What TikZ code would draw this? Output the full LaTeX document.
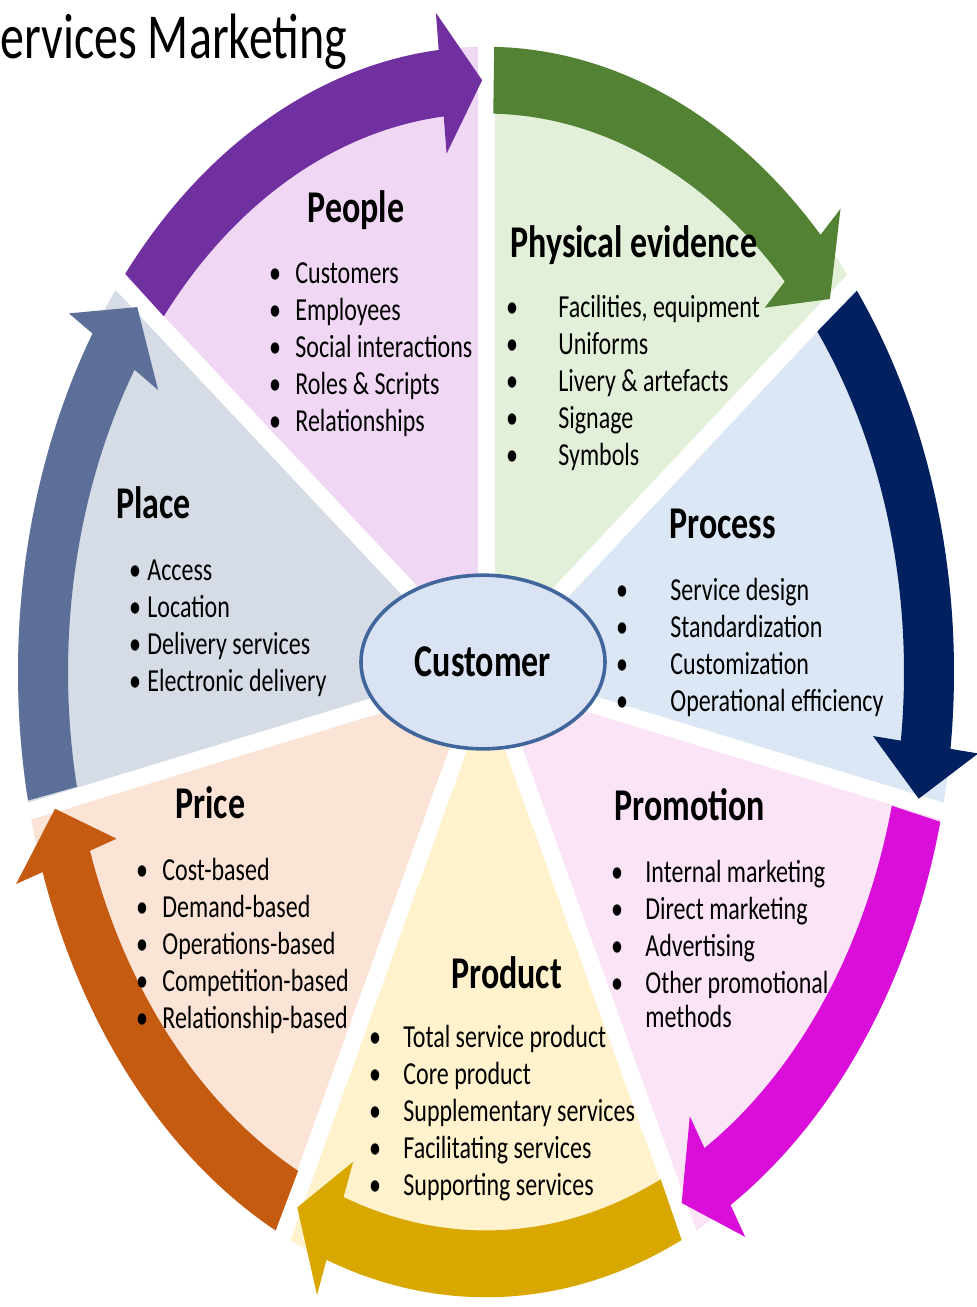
\documentclass[tikz,border=0pt]{standalone}
\usepackage{fontspec}
\setmainfont{Carlito}
\usetikzlibrary{shapes.geometric}

\definecolor{fillPeople}{HTML}{F0D8F5}
\definecolor{fillEvidence}{HTML}{E2EFD9}
\definecolor{fillProcess}{HTML}{DCE7F5}
\definecolor{fillPromotion}{HTML}{FCE4F7}
\definecolor{fillProduct}{HTML}{FFF2CC}
\definecolor{fillPrice}{HTML}{FBE4D6}
\definecolor{fillPlace}{HTML}{D6DCE5}
\definecolor{arrPeople}{HTML}{7030A0}
\definecolor{arrEvidence}{HTML}{548235}
\definecolor{arrProcess}{HTML}{002060}
\definecolor{arrPromotion}{HTML}{D90FD9}
\definecolor{arrProduct}{HTML}{D8A800}
\definecolor{arrPrice}{HTML}{C55A11}
\definecolor{arrPlace}{HTML}{5B6F99}
\definecolor{custFill}{HTML}{DAE3F3}
\definecolor{custLine}{HTML}{41669C}

\newcommand{\ystretch}{1.336}
\newcommand{\rOut}{468}
\newcommand{\rIn}{418}
\newcommand{\rBarbOut}{496}
\newcommand{\rBarbIn}{390}
\newcommand{\rTip}{443}

% band along the rim, head at the clockwise end
\newcommand{\rimarrow}[3]{%
  \fill[#1] ({#2}:\rOut) arc[start angle={#2}, end angle={#3+5.8}, radius=\rOut]
    -- ({#3+5.8}:\rBarbOut) -- ({#3+0.5}:\rTip) -- ({#3+5.8}:\rBarbIn)
    -- ({#3+5.8}:\rIn) arc[start angle={#3+5.8}, end angle={#2}, radius=\rIn] -- cycle;}

% name, bullet x, text x, first baseline (px), items
\newcommand{\bulletlist}[5]{%
  \foreach \txt [count=\j] in {#5} {
    \node[itm] (#1-\j) at (#3,{-(#4+(\j-1)*37)/\ystretch}) {\txt};
    \node[bul] (#1-b\j) at (#2,{-(#4+(\j-1)*37)/\ystretch}) {\textbullet};
  }}

\begin{document}
\begin{tikzpicture}[
    x=0.5pt, y=0.5pt, yscale=\ystretch,
    every node/.style={transform shape, font=\fontsize{12}{14}\selectfont},
    head/.style={font=\fontsize{17}{20}\selectfont\bfseries, inner sep=0pt, anchor=base west},
    itm/.style={anchor=base west, inner sep=0pt},
    bul/.style={anchor=base, inner sep=0pt},
    gap/.style={white, line width=8.5pt},
    cust/.style={ellipse, draw=custLine, line width=1.8pt, fill=custFill,
      minimum width=122pt, minimum height=65pt, inner sep=0pt,
      font=\fontsize{17}{20}\selectfont\bfseries},
  ]
  \useasboundingbox (0,0) rectangle (976,{-1307/\ystretch});

  \begin{scope}[shift={(486,-503)}]
    \foreach \b/\fc in {141.43/fillPeople, 90/fillEvidence, 38.57/fillProcess,
        -12.86/fillPromotion, -64.29/fillProduct, -115.71/fillPrice, -167.14/fillPlace}
      \fill[\fc] (0,0) -- ({\b}:\rOut) arc[start angle=\b, end angle={\b-51.43}, radius=\rOut] -- cycle;
    \foreach \b in {141.43, 90, 38.57, -12.86, -64.29, -115.71, -167.14}
      \draw[gap] (0,0) -- ({\b}:480);
    \foreach \b/\ac in {141.43/arrPeople, 90/arrEvidence, 38.57/arrProcess,
        -12.86/arrPromotion, -64.29/arrProduct, -115.71/arrPrice, -167.14/arrPlace}
      {\rimarrow{\ac}{\b-1}{\b-51.43}}
  \end{scope}

  \node[font=\fontsize{24}{28}\selectfont, anchor=base west, inner sep=0pt] (title)
    at (0,{-58/\ystretch}) {ervices Marketing};

  \node[cust] (customer) at (483,{-662/\ystretch}) {Customer};

  \node[head, anchor=base] (people) at (356,{-222/\ystretch}) {People};
  \node[head] (evidence) at (510,{-257/\ystretch}) {Physical evidence};
  \node[head] (process) at (669,{-538/\ystretch}) {Process};
  \node[head] (promotion) at (614,{-820/\ystretch}) {Promotion};
  \node[head] (product) at (451,{-988/\ystretch}) {Product};
  \node[head] (price) at (175,{-818/\ystretch}) {Price};
  \node[head] (place) at (116,{-518/\ystretch}) {Place};

  \bulletlist{peo}{275}{295}{283}{Customers, Employees, Social interactions, Roles \& Scripts, Relationships}
  \bulletlist{evi}{512}{558}{317}{{Facilities, equipment}, Uniforms, Livery \& artefacts, Signage, Symbols}
  \bulletlist{pro}{622}{670}{600}{Service design, Standardization, Customization, Operational efficiency}
  \bulletlist{prm}{617}{645}{882}{Internal marketing, Direct marketing, Advertising, Other promotional}
  \node[itm] (prm-5) at (645,{-1027/\ystretch}) {methods};
  \bulletlist{prd}{375}{403}{1047}{Total service product, Core product, Supplementary services, Facilitating services, Supporting services}
  \bulletlist{pri}{142}{162}{880}{Cost-based, Demand-based, Operations-based, Competition-based, Relationship-based}
  \bulletlist{pla}{135}{147}{580}{Access, Location, Delivery services, Electronic delivery}
\end{tikzpicture}
\end{document}
